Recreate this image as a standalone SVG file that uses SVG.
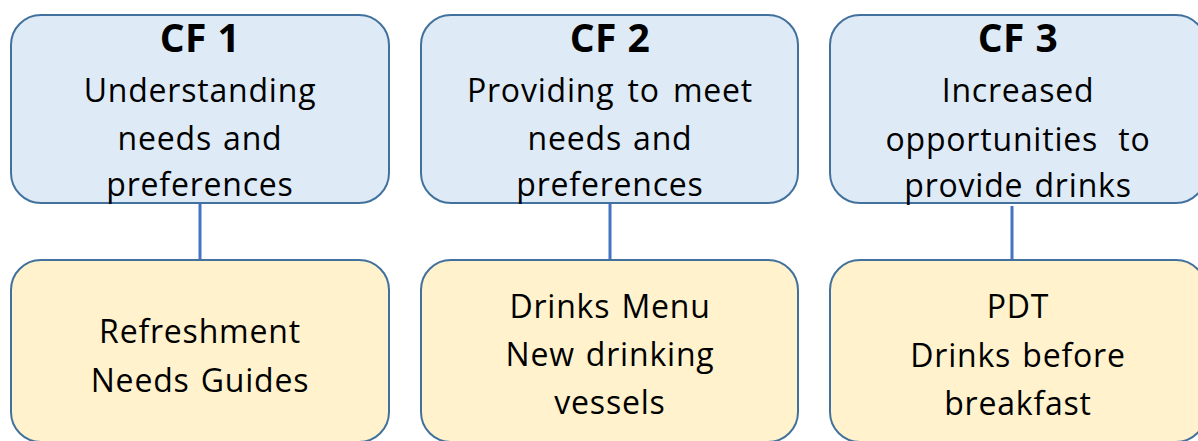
<svg xmlns="http://www.w3.org/2000/svg" width="1198" height="441" viewBox="0 0 1198 441">
  <style>
    .cf { fill: #DEEBF7; stroke: #41719C; stroke-width: 2; }
    .act { fill: #FFF2CC; stroke: #41719C; stroke-width: 2; }
    .link { stroke: #4472C4; stroke-width: 3; fill: none; }
    text { font-family: "Open Sans", "Liberation Sans", sans-serif; font-size: 32px; letter-spacing: 0.8px; word-spacing: 2px; fill: #000; text-anchor: middle; }
    .title { font-weight: bold; font-size: 39px; letter-spacing: 0.5px; word-spacing: 0; }
  </style>
  <rect width="1198" height="441" fill="#FFFFFF"/>

  <!-- connectors between each focus and its actions -->
  <g id="connectors">
    <line class="link" x1="200" y1="203" x2="200" y2="260"/>
    <line class="link" x1="610" y1="203" x2="610" y2="260"/>
    <line class="link" x1="1012" y1="206" x2="1012" y2="263"/>
  </g>

  <g id="cf1">
    <rect class="cf" x="11" y="15" width="378" height="188" rx="30" ry="30"/>
    <text class="title" x="200" y="52">CF 1</text>
    <text x="200" y="102">Understanding</text>
    <text x="200" y="150">needs and</text>
    <text x="200" y="196">preferences</text>
  </g>

  <g id="cf2">
    <rect class="cf" x="421" y="15" width="377" height="188" rx="30" ry="30"/>
    <text class="title" x="610" y="52">CF 2</text>
    <text x="610" y="102" style="word-spacing: 4px">Providing to meet</text>
    <text x="610" y="150">needs and</text>
    <text x="610" y="196">preferences</text>
  </g>

  <g id="cf3">
    <rect class="cf" x="830" y="15" width="376" height="188" rx="30" ry="30"/>
    <text class="title" x="1018" y="52">CF 3</text>
    <text x="1018" y="102">Increased</text>
    <text x="1018" y="151" style="word-spacing: 11px">opportunities to</text>
    <text x="1018" y="197">provide drinks</text>
  </g>

  <g id="act1">
    <rect class="act" x="11" y="260" width="378" height="182" rx="30" ry="30"/>
    <text x="200" y="343">Refreshment</text>
    <text x="200" y="392">Needs Guides</text>
  </g>

  <g id="act2">
    <rect class="act" x="421" y="260" width="377" height="182" rx="30" ry="30"/>
    <text x="610" y="318">Drinks Menu</text>
    <text x="610" y="366">New drinking</text>
    <text x="610" y="414">vessels</text>
  </g>

  <g id="act3">
    <rect class="act" x="830" y="260" width="376" height="182" rx="30" ry="30"/>
    <text x="1018" y="318">PDT</text>
    <text x="1018" y="367">Drinks before</text>
    <text x="1018" y="415">breakfast</text>
  </g>
</svg>
